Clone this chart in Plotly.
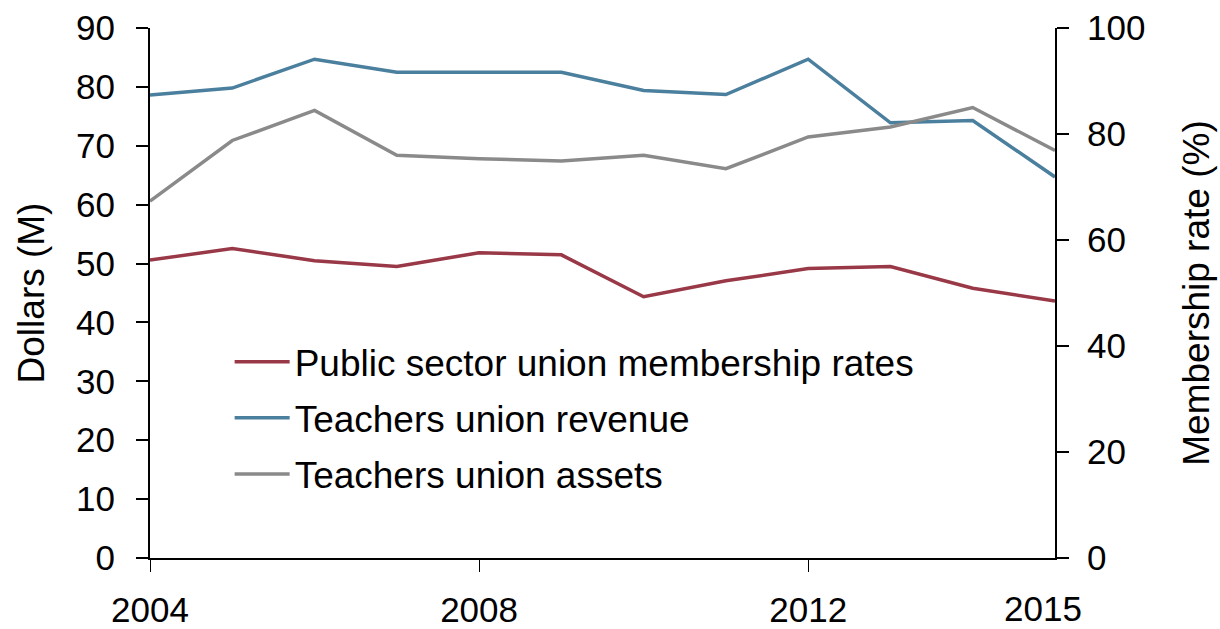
import plotly.graph_objects as go

# Annual series, 2004-2015
years = [2004, 2005, 2006, 2007, 2008, 2009, 2010, 2011, 2012, 2013, 2014, 2015]
membership_rate = [56.2, 58.4, 56.1, 55.0, 57.6, 57.2, 49.3, 52.3, 54.6, 55.0, 50.9, 48.5]
union_revenue = [78.6, 79.8, 84.7, 82.5, 82.5, 82.5, 79.4, 78.7, 84.7, 73.9, 74.3, 64.7]
union_assets = [60.6, 70.9, 76.0, 68.4, 67.8, 67.4, 68.4, 66.1, 71.5, 73.2, 76.5, 69.2]

x_tick_years = [2004, 2008, 2012]
last_year_label = "2015"
dollar_ticks = [0, 10, 20, 30, 40, 50, 60, 70, 80, 90]
rate_ticks = [0, 20, 40, 60, 80, 100]

RED = "#993847"
BLUE = "#4B7F9E"
GRAY = "#8A8A8A"
FONT = "Liberation Sans, Arial, sans-serif"

fig = go.Figure()
fig.add_trace(go.Scatter(x=years, y=membership_rate, mode="lines",
                         name="Public sector union membership rates",
                         line=dict(color=RED, width=3.5), yaxis="y2",
                         legendgroup="a"))
fig.add_trace(go.Scatter(x=years, y=union_revenue, mode="lines",
                         name="Teachers union revenue",
                         line=dict(color=BLUE, width=3.5), legendgroup="b"))
fig.add_trace(go.Scatter(x=years, y=union_assets, mode="lines",
                         name="Teachers union assets",
                         line=dict(color=GRAY, width=3.5), legendgroup="c"))

# the final year sits at the corner of the axes, so it gets its own label
fig.add_annotation(x=2015, y=0, xref="x", yref="paper", text=last_year_label,
                   showarrow=False, xanchor="center", yanchor="middle",
                   xshift=-12, yshift=-50, font=dict(family=FONT, size=35, color="black"))

fig.update_layout(
    width=1220, height=629,
    margin=dict(l=150, r=165, t=28, b=71, autoexpand=False),
    paper_bgcolor="white", plot_bgcolor="white",
    font=dict(family=FONT, size=35, color="black"),
    showlegend=True,
    legend=dict(x=0.088, y=0.428, xanchor="left", yanchor="top",
                bgcolor="rgba(0,0,0,0)", font=dict(size=37),
                itemwidth=55, tracegroupgap=5, traceorder="grouped"),
    xaxis=dict(range=[2004, 2015], tickvals=x_tick_years,
               ticktext=[str(v) for v in x_tick_years],
               showline=True, linecolor="black", linewidth=2,
               ticks="outside", ticklen=12, tickwidth=1, tickcolor="black",
               showgrid=False, zeroline=False, ticklabelstandoff=8,
               automargin=False),
    yaxis=dict(range=[0, 90], tickvals=dollar_ticks,
               title=dict(text="Dollars (M)", standoff=20, font=dict(size=37)),
               showline=True, linecolor="black", linewidth=2,
               ticks="outside", ticklen=12, tickwidth=2, tickcolor="black",
               showgrid=False, zeroline=False, ticklabelstandoff=14,
               automargin=False),
    yaxis2=dict(range=[0, 100], tickvals=rate_ticks, overlaying="y", side="right",
                title=dict(text="Membership rate (%)", standoff=39, font=dict(size=37)),
                showline=True, linecolor="black", linewidth=2,
                ticks="outside", ticklen=12, tickwidth=2, tickcolor="black",
                showgrid=False, zeroline=False, ticklabelstandoff=11,
                automargin=False),
)

fig.write_html("out.html")
